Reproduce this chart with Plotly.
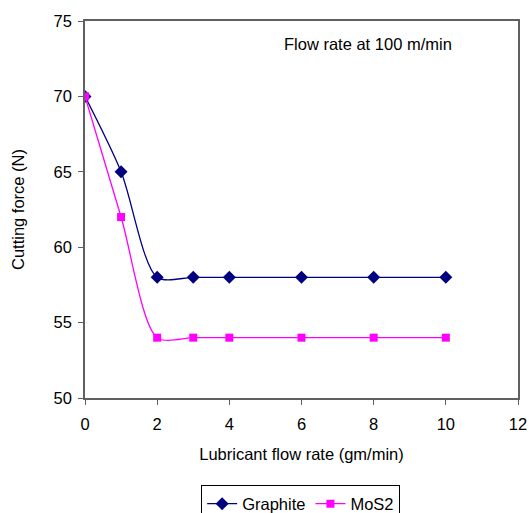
import plotly.graph_objects as go

flow = [0, 1, 2, 3, 4, 6, 8, 10]
graphite = [70, 65, 58, 58, 58, 58, 58, 58]
mos2 = [70, 62, 54, 54, 54, 54, 54, 54]

FONT = "Liberation Sans, Arial"
fig = go.Figure()
fig.add_trace(go.Scatter(x=flow, y=graphite, name="Graphite", mode="lines+markers",
                         line=dict(color="#000080", width=1.3, shape="spline", smoothing=0.8),
                         marker=dict(symbol="diamond", size=10, color="#000080")))
fig.add_trace(go.Scatter(x=flow, y=mos2, name="MoS2", mode="lines+markers",
                         line=dict(color="#FF00FF", width=1.3, shape="spline", smoothing=0.8),
                         marker=dict(symbol="square", size=8, color="#FF00FF")))

axis_common = dict(showgrid=False, zeroline=False, showline=True, linecolor="#606060",
                   linewidth=1.5, mirror=True, ticks="outside", ticklen=5, tickcolor="#606060",
                   tickfont=dict(family=FONT, size=16.5, color="#000"))
fig.update_xaxes(range=[0, 12], dtick=2, ticklabelstandoff=5, **axis_common,
                 title=dict(text="Lubricant flow rate (gm/min)", font=dict(family=FONT, size=16.5, color="#000"), standoff=17))
fig.update_yaxes(range=[50, 75], dtick=5, ticklabelstandoff=3, **axis_common,
                 title=dict(text="Cutting force (N)", font=dict(family=FONT, size=16.5, color="#000"), standoff=25))

fig.add_annotation(text="Flow rate at 100 m/min", xref="paper", yref="paper", x=0.455, y=0.968,
                   xanchor="left", yanchor="top", showarrow=False,
                   font=dict(family=FONT, size=16.5, color="#000"))

fig.update_layout(width=529, height=513, margin=dict(l=85, r=11, t=21, b=115, autoexpand=False),
                  plot_bgcolor="white", paper_bgcolor="white",
                  legend=dict(orientation="h", x=0.498, xanchor="center", y=-0.232, yanchor="top",
                              bordercolor="#000", borderwidth=1,
                              font=dict(family=FONT, size=16.5, color="#000"),
                              itemwidth=30, tracegroupgap=0))
fig.write_html("out.html")
